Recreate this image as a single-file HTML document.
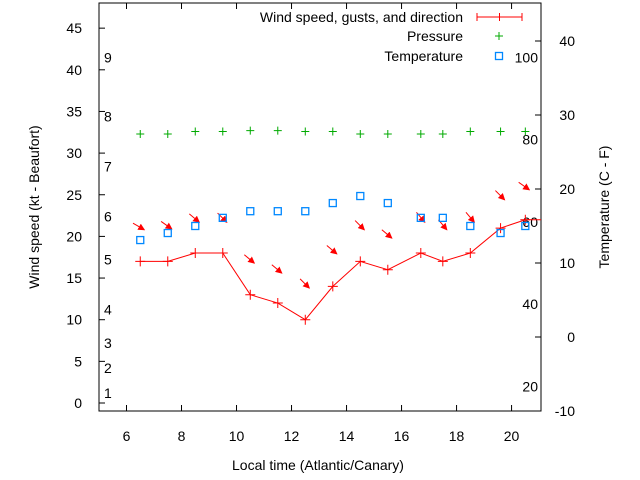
<!DOCTYPE html>
<html><head><meta charset="utf-8"><style>
body{margin:0;background:#fff}
svg{display:block;font-family:"Liberation Sans",sans-serif;font-size:14px}
</style></head><body>
<svg id="chart" width="640" height="480" xmlns="http://www.w3.org/2000/svg">
<defs><marker id="ah" markerWidth="7" markerHeight="7" refX="6" refY="3.5" orient="auto" markerUnits="userSpaceOnUse"><path d="M0,0 L7,3.5 L0,7 z" fill="#f00"/></marker></defs>
<g id="grid"></g>
<rect x="99" y="3" width="442" height="408" fill="none" stroke="#000"/>
<text transform="translate(39,207) rotate(-90)" text-anchor="middle">Wind speed (kt - Beaufort)</text>
<text transform="translate(609,207) rotate(-90)" text-anchor="middle">Temperature (C - F)</text>
<text x="318" y="470" text-anchor="middle">Local time (Atlantic/Canary)</text>
<g>
<text x="463" y="22" text-anchor="end">Wind speed, gusts, and direction</text>
<path d="M477,17H522M477,13V21M522,13V21M499.5,13V21" stroke="#f00" stroke-width="1"/>
<text x="463" y="41" text-anchor="end">Pressure</text>
<path d="M495,36H503M499,32V40" stroke="#0a0"/>
<text x="463" y="61" text-anchor="end">Temperature</text>
<rect x="495.5" y="52.5" width="7" height="7" fill="none" stroke="#08f" stroke-width="1.3"/>
</g>
<g id="marks"></g>
</svg>
<script>
const times=[6.5,7.5,8.5,9.5,10.5,11.5,12.5,13.5,14.5,15.5,16.7,17.5,18.5,19.6,20.5];
const windKt=[17,17,18,18,13,12,10,14,17,16,18,17,18,21,22];
const gustKt=[20.8,20.9,21.7,21.7,16.8,15.6,13.8,17.9,20.8,19.8,21.7,20.8,21.7,24.4,25.6];
const windDirDeg=[300,305,310,315,310,310,315,310,315,310,320,320,320,315,305];
const pressure=[32.3,32.3,32.6,32.6,32.7,32.7,32.6,32.6,32.3,32.3,32.3,32.3,32.6,32.6,32.6];
const tempC=[13.1,14.05,15,16.1,17,17,17,18.1,19.05,18.1,16.1,16.1,15,14.05,15];
const xTicks=[6,8,10,12,14,16,18,20];
const yTicks=[0,5,10,15,20,25,30,35,40,45];
const y2Ticks=[-10,0,10,20,30,40];
const beaufortLabels=["1","2","3","4","5","6","7","8","9"];
const beaufortKt=[1.2,4.2,7.2,11.2,17.2,22.4,28.4,34.4,41.5];
const fahrenheitLabels=["20","40","60","80","100"];
const fahrenheitC=[-6.67,4.44,15.56,26.67,37.78];

const L=99,R=541,T=3,B=411;
const X=v=>L+(v-5)*(R-L)/16.07;
const Y=v=>403-v*8.33;
const Y2=v=>B-(v+10)*7.4;
const NS="http://www.w3.org/2000/svg";
const g=document.getElementById('grid'),m=document.getElementById('marks');
function mk(tag,attrs,parent){const e=document.createElementNS(NS,tag);for(const k in attrs)e.setAttribute(k,attrs[k]);parent.appendChild(e);return e;}

xTicks.forEach(t=>{
  const l=mk('path',{d:`M${X(t)},${B}v-6M${X(t)},${T}v6`,stroke:'#000'},g);
  
  
  const tx=mk('text',{x:X(t),y:441,'text-anchor':'middle'},g);tx.textContent=t;
  
  
});
yTicks.forEach(t=>{
  const l=mk('path',{d:`M${L},${Y(t)}h6`,stroke:'#000'},g);
  
  
  const tx=mk('text',{x:82,y:Y(t)+5,'text-anchor':'end'},g);tx.textContent=t;
  
  
});
y2Ticks.forEach(t=>{
  const l=mk('path',{d:`M${R},${Y2(t)}h-6`,stroke:'#000'},g);
  
  
  const tx=mk('text',{x:575,y:Y2(t)+5,'text-anchor':'end'},g);tx.textContent=t;
  
  
});
beaufortLabels.forEach((s,i)=>{
  const tx=mk('text',{x:104,y:Y(beaufortKt[i])+5},g);tx.textContent=s;
  
  
});
fahrenheitLabels.forEach((s,i)=>{
  const tx=mk('text',{x:538,y:Y2(fahrenheitC[i])+5,'text-anchor':'end'},g);tx.textContent=s;
  
  
});

let d='';times.forEach((t,i)=>{d+=(i?'L':'M')+X(t)+','+Y(windKt[i]);});
d+='L'+R+','+Y(windKt[windKt.length-1]);
const wl=mk('path',{d:d,fill:'none',stroke:'#f00','stroke-width':1},m);


times.forEach((t,i)=>{
  const x=X(t),y=Y(windKt[i]);
  const p=mk('path',{d:`M${x-5},${y}h10M${x},${y-5}v10`,stroke:'#f00'},m);
  
  
  const gx=X(t)+4,gy=Y(gustKt[i]);
  const a=windDirDeg[i]*Math.PI/180,len=13;
  const dx=-Math.sin(a)*len,dy=Math.cos(a)*len;
  const ar=mk('line',{x1:gx-dx,y1:gy-dy,x2:gx,y2:gy,stroke:'#f00','stroke-width':1,'marker-end':'url(#ah)'},m);
  
  
  const px=X(t),py=Y(pressure[i]);
  const pp=mk('path',{d:`M${px-4},${py}h8M${px},${py-4}v8`,stroke:'#0a0'},m);
  
  
  const ty=Y2(tempC[i]);
  const sq=mk('rect',{x:px-3.5,y:ty-3.5,width:7,height:7,fill:'none',stroke:'#08f','stroke-width':1.3},m);
  
  
});
</script>
</body></html>
